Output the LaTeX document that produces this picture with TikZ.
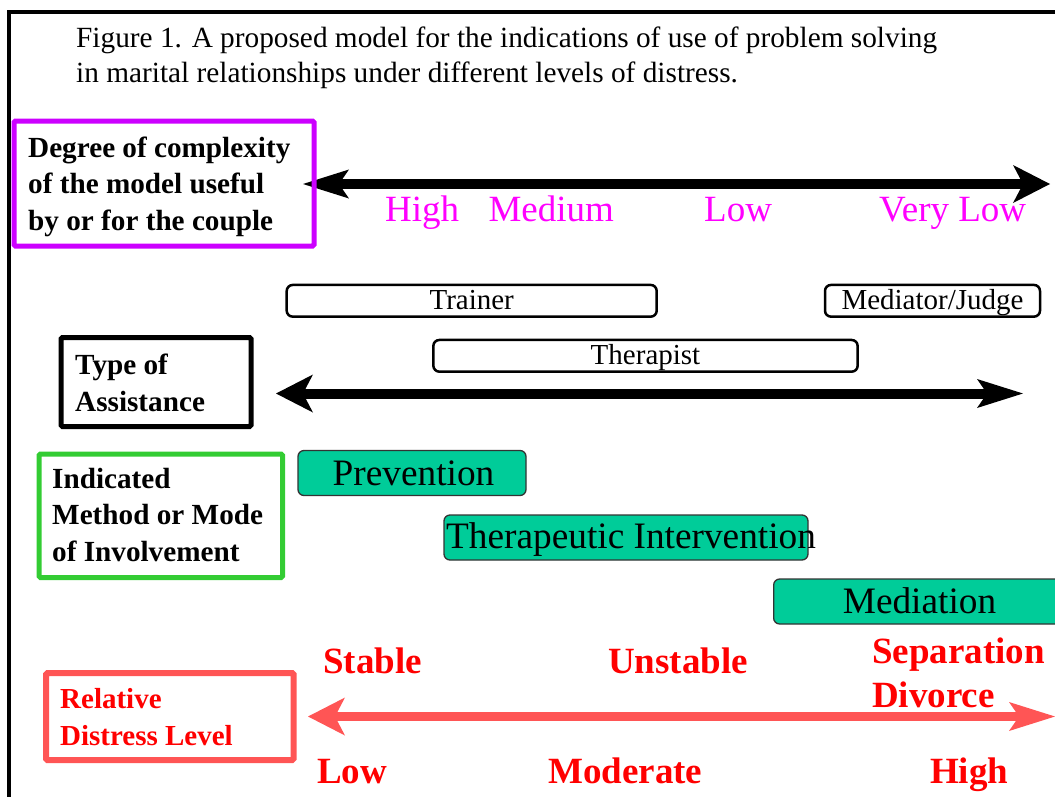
\documentclass[tikz,border=0pt]{standalone}
\usepackage{fontspec}
\setmainfont{Liberation Serif}
\usetikzlibrary{arrows.meta}

\definecolor{complexpurple}{RGB}{204,0,255}
\definecolor{scalemagenta}{RGB}{255,0,255}
\definecolor{modegreen}{RGB}{51,204,51}
\definecolor{modefill}{RGB}{0,204,153}
\definecolor{distressline}{RGB}{255,85,85}
\definecolor{distresstext}{RGB}{255,0,0}

\newcommand\figcapfont{\fontsize{29.3}{35}\selectfont}
\newcommand\rowheadfont{\bfseries\fontsize{29.2}{36.5}\selectfont}
\newcommand\rolefont{\fontsize{29}{35}\selectfont}
\newcommand\ratingfont{\fontsize{37}{44}\selectfont}
\newcommand\modefont{\fontsize{37.3}{44}\selectfont}
\newcommand\levelfont{\bfseries\fontsize{37}{44}\selectfont}

% multi-line nodes are anchored at the baseline of their last line
\tikzset{
  headbox/.style={draw, line width=5pt, rounded corners=1.5pt, inner sep=0pt},
  headtext/.style={anchor=base west, align=left, inner sep=0pt, font=\rowheadfont},
  rolebox/.style={draw, line width=2.5pt, rounded corners=6pt, inner sep=0pt,
    minimum height=31.7pt, text height=19pt, text depth=1pt, font=\rolefont},
  modebox/.style={draw=black!80, line width=1.3pt, fill=modefill, rounded corners=6pt,
    inner sep=0pt, minimum height=45pt},
  modetext/.style={anchor=base, inner sep=0pt, font=\modefont},
  rating/.style={anchor=base west, inner sep=0pt, text=scalemagenta, font=\ratingfont},
  level/.style={anchor=base west, align=left, inner sep=0pt, text=distresstext, font=\levelfont},
  tipwide/.tip={Stealth[length=37pt, width=38pt, inset=10pt, line width=0pt]},
  tipnarrow/.tip={Stealth[length=46pt, width=29pt, inset=10pt, line width=0pt]},
}

\begin{document}
\begin{tikzpicture}[x=1pt, y=-1pt]
\useasboundingbox (0,0) rectangle (1055,796);
\clip (0,0) rectangle (1055,796);

% outer frame (top and left edges)
\draw[line width=4pt] (8.7,800) |- (1060,12);

% caption
\node[anchor=base west, align=left, inner sep=0pt, font=\figcapfont] (caption) at (76,82)
  {Figure 1. A proposed model for the indications of use of problem solving\\
   in marital relationships under different levels of distress.};

% ---- row 1: complexity of the model
\coordinate (cxL) at (303,184);
\coordinate (cxR) at (1050,184);
\draw[line width=9.5pt, tipnarrow-tipwide] (cxL) -- (cxR);
\node[headbox, draw=complexpurple, minimum width=300pt, minimum height=125pt] (complexbox) at (164,183.5) {};
\node[headtext] (complexlabel) at (28,230) {Degree of complexity\\of the model useful\\by or for the couple};
\node[rating] (rhigh) at (385,221.7) {High};
\node[rating] (rmedium) at (488.3,221.7) {Medium};
\node[rating] (rlow) at (704,221.7) {Low};
\node[rating] (rverylow) at (879,221.7) {Very Low};

% ---- row 2: type of assistance
\node[rolebox, minimum width=370pt] (trainer) at (471.7,300.8) {Trainer};
\node[rolebox, minimum width=215pt] (mediator) at (932.5,300.8) {Mediator/Judge};
\node[rolebox, minimum width=424.3pt] (therapist) at (645.5,355.8) {Therapist};
\coordinate (asL) at (276,393.5);
\coordinate (asR) at (1023,393.5);
\draw[line width=10pt, tipwide-tipnarrow] (asL) -- (asR);
\node[headbox, minimum width=190pt, minimum height=89pt] (typebox) at (156,382) {};
\node[headtext] (typelabel) at (75,411) {Type of\\Assistance};

% ---- row 3: method or mode of involvement
\node[headbox, draw=modegreen, minimum width=243.5pt, minimum height=123.5pt] (modebox) at (160.75,515.75) {};
\node[headtext] (modelabel) at (52,561) {Indicated\\Method or Mode\\of Involvement};
\node[modebox, minimum width=228pt] (prevbox) at (412,473) {};
\node[modetext] (prevtext) at (413.5,485) {Prevention};
\node[modebox, minimum width=364pt] (therbox) at (626,537.5) {};
\node[modetext, anchor=base west] (thertext) at (446,548.3) {Therapeutic Intervention};
\node[modebox, minimum width=330pt, anchor=west] (medbox) at (773,601.5) {};
\node[modetext] (medtext) at (919.5,613) {Mediation};

% ---- row 4: relative distress level
\coordinate (dsL) at (308,716.5);
\coordinate (dsR) at (1055,716.5);
\draw[line width=9pt, draw=distressline, fill=distressline, tipwide-tipnarrow] (dsL) -- (dsR);
\node[headbox, draw=distressline, line width=6pt, minimum width=247.7pt, minimum height=87pt] (distressbox) at (169.85,716.5) {};
\node[headtext, text=distresstext, font=\bfseries\fontsize{29}{37}\selectfont] (distresslabel) at (60,745) {Relative\\Distress Level};
\node[level] (lstable) at (323,673) {Stable};
\node[level] (lunstable) at (608,673) {Unstable};
\node[level] (lsep) at (872,707) {Separation\\Divorce};
\node[level] (llow) at (317,783) {Low};
\node[level] (lmoderate) at (548,783) {Moderate};
\node[level] (lhigh) at (930,783) {High};
\end{tikzpicture}
\end{document}
